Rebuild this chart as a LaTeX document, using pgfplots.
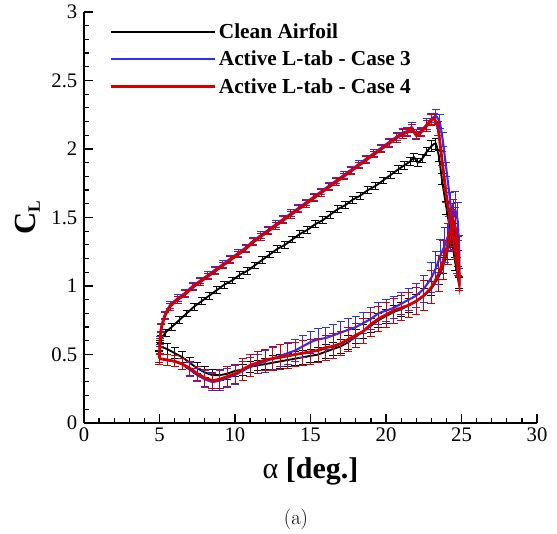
\documentclass[border=0pt]{standalone}
\usepackage{fontspec}
\usepackage{pgfplots}
\usepackage{pgfplotstable}
\pgfplotsset{compat=1.18}
\newfontfamily\tnr{Liberation Serif}
\definecolor{cblue}{RGB}{45,45,255}
\definecolor{cred}{RGB}{210,0,0}

% clean airfoil: upstroke then downstroke
\pgfplotstableread{
x y e
5.00 0.56 0.03
5.10 0.61 0.03
5.40 0.66 0.025
5.80 0.70 0.025
6.30 0.75 0.025
6.80 0.80 0.025
7.30 0.85 0.025
7.80 0.89 0.025
8.30 0.93 0.025
8.80 0.97 0.025
9.30 1.01 0.025
9.80 1.04 0.025
10.30 1.08 0.025
10.80 1.11 0.025
11.30 1.15 0.025
11.80 1.19 0.025
12.30 1.23 0.025
12.80 1.27 0.025
13.30 1.30 0.025
13.80 1.34 0.025
14.30 1.38 0.025
14.80 1.41 0.025
15.30 1.45 0.025
15.80 1.48 0.025
16.30 1.52 0.025
16.80 1.56 0.025
17.30 1.59 0.025
17.80 1.63 0.025
18.30 1.66 0.025
18.80 1.70 0.025
19.30 1.73 0.025
19.80 1.77 0.025
20.30 1.81 0.025
20.80 1.85 0.03
21.20 1.88 0.03
21.60 1.91 0.03
21.85 1.94 0.03
22.10 1.90 0.03
22.40 1.93 0.03
22.70 1.98 0.03
23.00 2.02 0.04
23.30 2.04 0.04
23.50 1.95 0.04
23.70 1.78 0.04
24.00 1.57 0.05
24.30 1.37 0.05
24.60 1.16 0.05
24.85 1.02 0.04
24.75 1.20 0.06
24.55 1.38 0.08
24.35 1.36 0.08
24.10 1.26 0.07
23.80 1.15 0.06
23.50 1.07 0.06
23.00 0.98 0.05
22.50 0.93 0.05
22.00 0.89 0.05
21.50 0.86 0.05
21.00 0.83 0.05
20.50 0.81 0.05
20.00 0.78 0.05
19.50 0.75 0.05
19.00 0.71 0.05
18.50 0.67 0.05
18.00 0.63 0.05
17.50 0.59 0.05
17.00 0.56 0.05
16.50 0.54 0.05
16.00 0.52 0.05
15.50 0.50 0.05
15.00 0.49 0.05
14.50 0.48 0.05
14.00 0.47 0.05
13.50 0.46 0.05
13.00 0.45 0.05
12.50 0.44 0.05
12.00 0.43 0.04
11.50 0.42 0.04
11.00 0.41 0.04
10.50 0.39 0.04
10.00 0.38 0.04
9.50 0.36 0.04
9.00 0.35 0.04
8.50 0.35 0.04
8.00 0.37 0.04
7.50 0.40 0.04
7.00 0.44 0.04
6.50 0.48 0.04
6.00 0.51 0.04
5.50 0.54 0.04
5.00 0.56 0.04
}\clean

% active L-tab case 3
\pgfplotstableread{
x y e
5.00 0.47 0.03
5.03 0.60 0.03
5.12 0.70 0.03
5.35 0.79 0.025
5.70 0.86 0.025
6.20 0.91 0.025
6.70 0.95 0.025
7.20 1.00 0.025
7.70 1.04 0.025
8.20 1.08 0.025
8.70 1.12 0.025
9.20 1.16 0.025
9.70 1.20 0.025
10.20 1.24 0.025
10.70 1.28 0.025
11.20 1.33 0.025
11.70 1.37 0.025
12.20 1.41 0.025
12.70 1.45 0.025
13.20 1.49 0.025
13.70 1.53 0.025
14.20 1.57 0.025
14.70 1.61 0.025
15.20 1.65 0.025
15.70 1.69 0.025
16.20 1.73 0.025
16.70 1.77 0.025
17.20 1.81 0.025
17.70 1.85 0.025
18.20 1.89 0.025
18.70 1.93 0.025
19.20 1.97 0.025
19.70 2.01 0.025
20.20 2.05 0.03
20.70 2.09 0.03
21.10 2.12 0.03
21.40 2.13 0.03
21.70 2.16 0.03
22.00 2.11 0.03
22.30 2.13 0.03
22.70 2.18 0.04
23.00 2.22 0.04
23.30 2.24 0.05
23.55 2.20 0.05
23.75 2.07 0.05
24.00 1.85 0.05
24.25 1.62 0.06
24.50 1.35 0.06
24.70 1.15 0.06
24.85 1.02 0.05
24.85 1.25 0.12
24.75 1.47 0.14
24.60 1.55 0.14
24.40 1.47 0.13
24.15 1.38 0.13
23.90 1.30 0.13
23.60 1.22 0.12
23.30 1.13 0.12
23.00 1.06 0.11
22.50 0.98 0.10
22.00 0.93 0.09
21.50 0.90 0.08
21.00 0.87 0.08
20.50 0.84 0.08
20.00 0.82 0.08
19.50 0.80 0.08
19.00 0.76 0.08
18.50 0.73 0.08
18.00 0.70 0.08
17.50 0.68 0.08
17.00 0.66 0.08
16.50 0.64 0.08
16.00 0.62 0.08
15.50 0.61 0.08
15.00 0.59 0.08
14.50 0.56 0.08
14.00 0.53 0.08
13.50 0.51 0.08
13.00 0.49 0.08
12.50 0.47 0.08
12.00 0.45 0.08
11.50 0.43 0.07
11.00 0.41 0.07
10.50 0.38 0.07
10.00 0.35 0.07
9.50 0.33 0.07
9.00 0.31 0.07
8.50 0.30 0.06
8.00 0.32 0.06
7.50 0.35 0.05
7.00 0.39 0.05
6.50 0.43 0.04
6.00 0.45 0.04
5.50 0.46 0.04
5.00 0.47 0.04
}\caseC

% active L-tab case 4
\pgfplotstableread{
x y e
5.00 0.47 0.03
5.03 0.59 0.03
5.12 0.69 0.03
5.35 0.78 0.025
5.70 0.85 0.025
6.20 0.90 0.025
6.70 0.94 0.025
7.20 0.99 0.025
7.70 1.03 0.025
8.20 1.07 0.025
8.70 1.11 0.025
9.20 1.15 0.025
9.70 1.19 0.025
10.20 1.23 0.025
10.70 1.27 0.025
11.20 1.32 0.025
11.70 1.36 0.025
12.20 1.40 0.025
12.70 1.44 0.025
13.20 1.48 0.025
13.70 1.52 0.025
14.20 1.56 0.025
14.70 1.60 0.025
15.20 1.64 0.025
15.70 1.68 0.025
16.20 1.72 0.025
16.70 1.76 0.025
17.20 1.80 0.025
17.70 1.84 0.025
18.20 1.88 0.025
18.70 1.92 0.025
19.20 1.96 0.025
19.70 2.00 0.025
20.20 2.04 0.03
20.70 2.08 0.03
21.10 2.11 0.03
21.40 2.12 0.03
21.70 2.15 0.03
22.00 2.10 0.03
22.30 2.12 0.03
22.70 2.17 0.04
23.00 2.21 0.04
23.20 2.22 0.04
23.45 2.15 0.05
23.70 1.93 0.05
24.00 1.66 0.05
24.30 1.45 0.06
24.60 1.25 0.06
24.85 1.02 0.05
24.80 1.22 0.14
24.60 1.42 0.15
24.45 1.48 0.15
24.30 1.41 0.15
24.10 1.31 0.15
23.80 1.19 0.14
23.50 1.09 0.13
23.00 0.99 0.12
22.50 0.93 0.11
22.00 0.89 0.10
21.50 0.86 0.09
21.00 0.84 0.09
20.50 0.82 0.09
20.00 0.79 0.09
19.50 0.76 0.09
19.00 0.72 0.09
18.50 0.67 0.09
18.00 0.64 0.09
17.50 0.61 0.09
17.00 0.58 0.09
16.50 0.56 0.09
16.00 0.55 0.09
15.50 0.53 0.09
15.00 0.52 0.09
14.50 0.51 0.09
14.00 0.50 0.09
13.50 0.49 0.09
13.00 0.48 0.09
12.50 0.47 0.09
12.00 0.46 0.08
11.50 0.44 0.08
11.00 0.42 0.08
10.50 0.39 0.08
10.00 0.36 0.07
9.50 0.34 0.07
9.00 0.32 0.07
8.50 0.31 0.06
8.00 0.33 0.06
7.50 0.36 0.05
7.00 0.40 0.05
6.50 0.43 0.04
6.00 0.45 0.04
5.50 0.46 0.04
5.00 0.47 0.04
}\caseD

\begin{document}
\begin{tikzpicture}
\begin{axis}[
  name=ax, scale only axis,
  width=339.75pt, height=308.25pt,
  xmin=0, xmax=30, ymin=0, ymax=3,
  axis x line*=bottom, axis y line*=left,
  axis line style={line width=1.2pt},
  xtick={0,5,...,30}, ytick={0,0.5,...,3},
  minor x tick num=4, minor y tick num=4,
  tick align=inside,
  major tick length=7pt, minor tick length=3.5pt,
  every tick/.style={line width=0.9pt, black},
  ticklabel style={font=\tnr\fontsize{15.5}{18}\selectfont},
  yticklabel style={xshift=-1.5pt},
  /pgf/number format/assume math mode=true,
  xlabel={α \textbf{[deg.]}},
  every axis x label/.style={at={(axis description cs:0.5,0)}, yshift=-36pt, anchor=center, font=\tnr\fontsize{22.5}{25}\selectfont},
  ylabel={\textbf{C}\raisebox{-0.35ex}{\fontsize{13}{14}\selectfont\textbf{L}}},
  every axis y label/.style={at={(axis description cs:-0.125,0.5)}, rotate=90, anchor=center, font=\tnr\fontsize{23}{25}\selectfont},
  legend style={at={(axis cs:1.4,2.96)}, anchor=north west, draw=none, fill=none,
    font=\tnr\bfseries\fontsize{16}{19}\selectfont, row sep=4pt},
  legend cell align=left,
  legend image code/.code={\draw[#1] (0pt,0pt) -- (71pt,0pt); \path (0pt,0pt) -- (78pt,0pt);},
]
\addplot[black, line width=1.4pt, smooth, tension=0.3,
  error bars/.cd, y dir=both, y explicit,
  error bar style={line width=0.7pt, black},
  error mark options={rotate=90, mark size=3pt, line width=0.7pt, black}]
  table[x=x, y=y, y error=e]{\clean};
\addlegendentry{Clean Airfoil}
\addplot[cblue, line width=1.6pt, smooth, tension=0.3,
  error bars/.cd, y dir=both, y explicit,
  error bar style={line width=0.7pt, cblue},
  error mark options={rotate=90, mark size=3pt, line width=0.7pt, cblue}]
  table[x=x, y=y, y error=e]{\caseC};
\addlegendentry{Active L-tab - Case 3}
\addplot[cred, line width=2.1pt, smooth, tension=0.3,
  error bars/.cd, y dir=both, y explicit,
  error bar style={line width=0.7pt, cred},
  error mark options={rotate=90, mark size=3pt, line width=0.7pt, cred}]
  table[x=x, y=y, y error=e]{\caseD};
\addlegendentry{Active L-tab - Case 4}
\end{axis}
\node[font=\fontsize{15.5}{18}\selectfont] at ([xshift=159pt, yshift=-72pt]ax.south west) {(a)};
\pgfresetboundingbox
\path ([xshift=-63pt, yshift=-83.25pt]ax.south west) rectangle ([xshift=15pt, yshift=9pt]ax.north east);
\end{tikzpicture}
\end{document}
